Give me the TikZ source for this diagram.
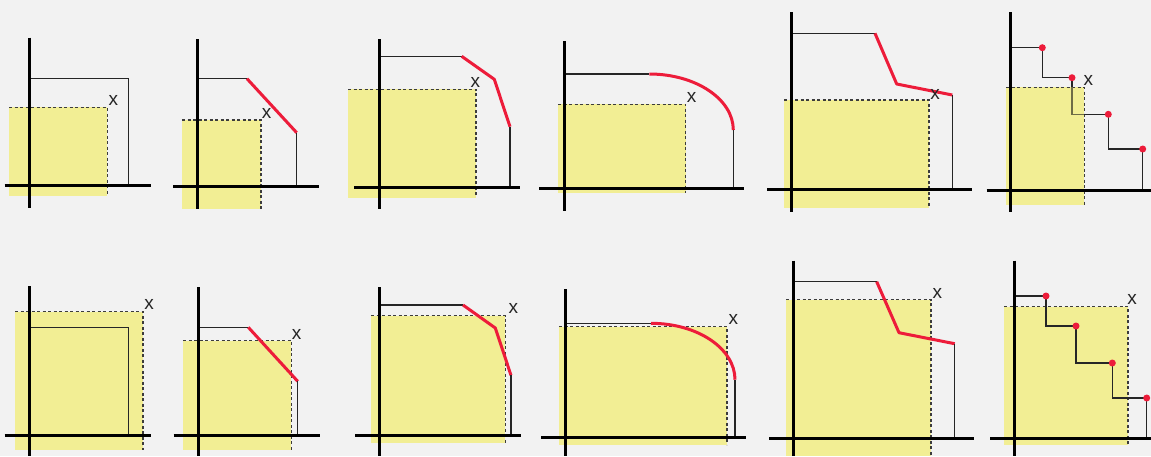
\documentclass[tikz,border=0pt]{standalone}
\usepackage{fontspec}
\setmainfont{Liberation Sans}
\definecolor{bgc}{RGB}{242,242,242}
\definecolor{yelc}{RGB}{242,238,148}
\definecolor{redc}{RGB}{237,28,58}
\definecolor{dashc}{RGB}{60,60,60}
\definecolor{olivec}{RGB}{110,108,70}
\tikzset{
  axisl/.style={line width=3pt,black},
  thinl/.style={line width=1.1pt,black!85},
  redl/.style={line width=3pt,redc,line join=round},
  yelbox/.style={fill=yelc,draw=none},
  dashl/.style={dash pattern=on 3pt off 2.5pt,line width=1.1pt,dashc},
  lbl/.style={font=\fontsize{19}{19}\selectfont,inner sep=0pt,text=black!85},
  reddot/.style={circle,fill=redc,inner sep=0pt,minimum size=7pt}
}
\begin{document}
\begin{tikzpicture}[x=1pt,y=-1pt]
\useasboundingbox (0,0) rectangle (1151,456);
\fill[bgc] (0,0) rectangle (1151,456);

% ===== Panel 1 =====
\fill[yelbox] (9,107.3) rectangle (107.3,195.7);
\draw[dashl] (9,107.3) -- (107.3,107.3) -- (107.3,195.7);
\draw[thinl] (30,78.7) -- (128.3,78.7) -- (128.3,185.7);
\draw[axisl] (29.5,37.7) -- (29.5,207.7);
\draw[axisl] (4.7,185.7) -- (150.7,185.7);
\node[lbl] (x1) at (113.3,100) {x};

% ===== Panel 2 =====
\fill[yelbox] (182,120) rectangle (261,209);
\draw[dashl] (182,120) -- (261,120) -- (261,209);
\draw[thinl] (199,78.7) -- (247,78.7);
\draw[redl] (247,78.7) -- (296.7,132.7);
\draw[thinl] (296.7,132.7) -- (296.7,186.7);
\draw[axisl] (197.7,39) -- (197.7,209);
\draw[axisl] (173.3,186.7) -- (319,186.7);
\node[lbl] (x2) at (266.7,113.3) {x};

% ===== Panel 3 =====
\fill[yelbox] (348,89.3) rectangle (476,197.7);
\draw[dashl] (348,89.3) -- (476,89.3) -- (476,197.7);
\draw[thinl] (380,56.3) -- (461.7,56.3);
\draw[redl] (461.7,56.3) -- (494.3,79.3) -- (510,126.7);
\draw[thinl] (510,126.7) -- (510,187);
\draw[axisl] (379,39) -- (379,209);
\draw[axisl] (354.3,187) -- (520,187);
\node[lbl] (x3) at (475.3,82.7) {x};

% ===== Panel 4 =====
\fill[yelbox] (558,104.3) rectangle (685.7,192.7);
\draw[dashl] (558,104.3) -- (685.7,104.3) -- (685.7,192.7);
\draw[thinl] (565,74) -- (649.3,74);
\draw[redl] (649.3,74) .. controls (695.7,74) and (733.3,99.1) .. (733.3,130);
\draw[thinl] (733.3,130) -- (733.3,188.7);
\draw[axisl] (564.3,41) -- (564.3,210.7);
\draw[axisl] (539.3,188.7) -- (744.3,188.7);
\node[lbl] (x4) at (691.7,97.7) {x};

% ===== Panel 5 =====
\fill[yelbox] (784,100) rectangle (929,207.7);
\draw[dashl] (784,100) -- (929,100) -- (929,207.7);
\draw[thinl] (793,33.3) -- (875,33.3);
\draw[redl] (875,33.3) -- (896.7,84) -- (952.3,95);
\draw[thinl] (952.3,95) -- (952.3,189.7);
\draw[axisl] (791.7,12.3) -- (791.7,211.7);
\draw[axisl] (767.3,189.7) -- (972,189.7);
\node[lbl] (x5) at (935,94.3) {x};

% ===== Panel 6 =====
\fill[yelbox] (1006,87.3) rectangle (1084.3,204.7);
\draw[dashl] (1006,87.3) -- (1084.3,87.3) -- (1084.3,204.7);
\coordinate (s6) at (1012,47.7);
\coordinate (p61) at (1042.3,47.7);
\coordinate (p62) at (1072,77.7);
\coordinate (p63) at (1108.3,114.3);
\coordinate (p64) at (1142.7,149);
\coordinate (q6) at (1072,87.3);
\coordinate (r6) at (1084.3,114.3);
\draw[thinl] (s6) -- (p61) |- (p62) -- (q6);
\draw[line width=1.1pt,olivec] (q6) |- (r6);
\draw[thinl] (r6) -- (p63) |- (p64) -- (1142.7,190);
\node[reddot] (d61) at (p61) {};
\node[reddot] (d62) at (p62) {};
\node[reddot] (d63) at (p63) {};
\node[reddot] (d64) at (p64) {};
\draw[axisl] (1010.7,12.3) -- (1010.7,211.7);
\draw[axisl] (986.7,190) -- (1151,190);
\node[lbl] (x6) at (1088.3,80) {x};

% ===== Panel 7 =====
\fill[yelbox] (15,311.7) rectangle (143,449.7);
\draw[dashl] (15,311.7) -- (143,311.7) -- (143,449.7);
\draw[thinl] (30,327.3) -- (128.3,327.3) -- (128.3,435);
\draw[axisl] (29.3,286.3) -- (29.3,456);
\draw[axisl] (4.7,435) -- (151,435);
\node[lbl] (x7) at (149,304.7) {x};

% ===== Panel 8 =====
\fill[yelbox] (183,340.7) rectangle (291.3,449.7);
\draw[dashl] (183,340.7) -- (291.3,340.7) -- (291.3,449.7);
\draw[thinl] (199,327.3) -- (248.3,327.3);
\draw[redl] (248.3,327.3) -- (297.7,381.3);
\draw[thinl] (297.7,381.3) -- (297.7,435.7);
\draw[axisl] (198.3,287.3) -- (198.3,456);
\draw[axisl] (173.7,435.7) -- (319.7,435.7);
\node[lbl] (x8) at (296.7,334) {x};

% ===== Panel 9 =====
\fill[yelbox] (371,315.7) rectangle (505.3,443.3);
\draw[dashl] (371,315.7) -- (505.3,315.7) -- (505.3,443.3);
\draw[thinl] (381,305) -- (463,305);
\draw[redl] (463,305) -- (495.3,328) -- (511,375.3);
\draw[thinl] (511,375.3) -- (511,435.7);
\draw[axisl] (379.7,287.3) -- (379.7,456);
\draw[axisl] (355,435.7) -- (521.3,435.7);
\node[lbl] (x9) at (513.3,308) {x};

% ===== Panel 10 =====
\fill[yelbox] (559,326.7) rectangle (727,444.7);
\draw[dashl] (559,326.7) -- (727,326.7) -- (727,444.7);
\draw[thinl] (566,323.3) -- (651,323.3);
\draw[redl] (651,323.3) .. controls (697.4,323.3) and (735,348.4) .. (735,379.7);
\draw[thinl] (735,379.7) -- (735,437.7);
\draw[axisl] (565.3,289.3) -- (565.3,456);
\draw[axisl] (541,437.7) -- (746,437.7);
\node[lbl] (x10) at (733.3,319.7) {x};

% ===== Panel 11 =====
\fill[yelbox] (786,299.7) rectangle (931,456);
\draw[dashl] (786,299.7) -- (931,299.7) -- (931,456);
\draw[thinl] (795,281.7) -- (876.7,281.7);
\draw[redl] (876.7,281.7) -- (899,332.7) -- (954.7,343.7);
\draw[thinl] (954.7,343.7) -- (954.7,438.7);
\draw[axisl] (793.3,260.7) -- (793.3,456);
\draw[axisl] (769,438.7) -- (974,438.7);
\node[lbl] (x11) at (937.3,293.7) {x};

% ===== Panel 12 =====
\fill[yelbox] (1004,306.7) rectangle (1128,444.7);
\draw[dashl] (1004,306.7) -- (1128,306.7) -- (1128,444.7);
\coordinate (s0) at (1016,296);
\coordinate (d121) at (1046,296);
\coordinate (d122) at (1076,326);
\coordinate (d123) at (1112.3,363);
\coordinate (d124) at (1146.7,398);
\draw[thinl] (s0) -- (d121) |- (d122) |- (d123) |- (d124) -- (1146.7,438.7);
\node[reddot] (e121) at (d121) {};
\node[reddot] (e122) at (d122) {};
\node[reddot] (e123) at (d123) {};
\node[reddot] (e124) at (d124) {};
\draw[axisl] (1014.7,260.7) -- (1014.7,456);
\draw[axisl] (990,438.7) -- (1151,438.7);
\node[lbl] (x12) at (1132,299.3) {x};
\end{tikzpicture}
\end{document}
